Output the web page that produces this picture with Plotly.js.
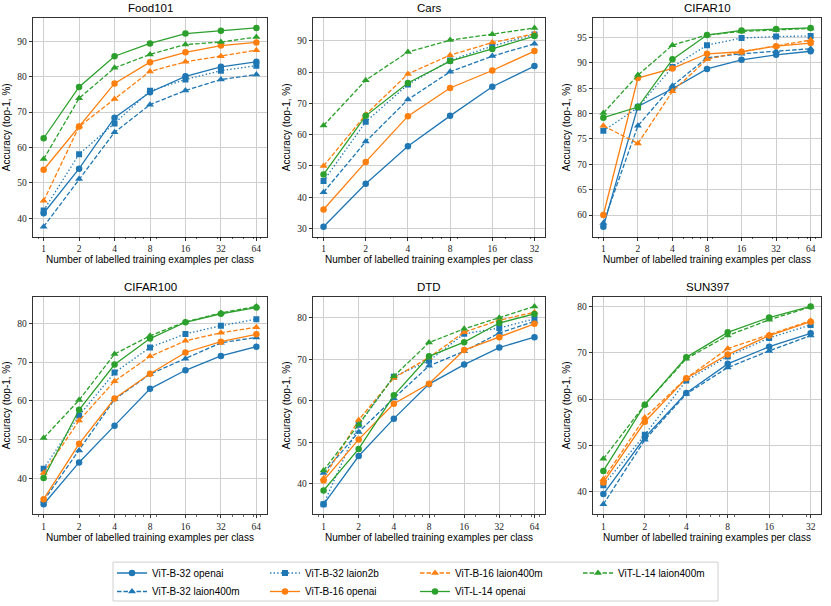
<!DOCTYPE html>
<html>
<head>
<meta charset="utf-8">
<script src="https://cdn.plot.ly/plotly-3.0.1.min.js"></script>
<style>html,body{margin:0;padding:0;background:#fff;} #chart{width:831px;height:606px;}</style>
</head>
<body>
<div id="chart"></div>
<script>
// ---------- data ----------
const shots7 = [1, 2, 4, 8, 16, 32, 64];
const shots6 = [1, 2, 4, 8, 16, 32];
const shotLabels = ['1', '2', '4', '8', '16', '32', '64'];

const modelNames = ['ViT-B-32 openai', 'ViT-B-32 laion400m', 'ViT-B-32 laion2b',
  'ViT-B-16 openai', 'ViT-B-16 laion400m', 'ViT-L-14 openai', 'ViT-L-14 laion400m'];

const datasetTitles = ['Food101', 'Cars', 'CIFAR10', 'CIFAR100', 'DTD', 'SUN397'];

// Food101
const food101_B32_openai    = [41.4, 54.0, 68.4, 75.6, 80.1, 82.8, 84.2];
const food101_B32_laion400m = [37.6, 51.1, 64.3, 72.1, 76.1, 79.2, 80.6];
const food101_B32_laion2b   = [42.2, 58.1, 66.8, 76.0, 79.2, 81.7, 83.1];
const food101_B16_openai    = [53.7, 65.9, 78.1, 84.1, 86.9, 88.8, 89.7];
const food101_B16_laion400m = [44.9, 65.9, 73.7, 81.5, 84.2, 85.8, 87.5];
const food101_L14_openai    = [62.6, 77.1, 85.8, 89.4, 92.2, 93.0, 93.8];
const food101_L14_laion400m = [56.7, 73.9, 82.5, 86.3, 89.1, 89.8, 91.2];

// Cars
const cars_B32_openai    = [30.6, 44.3, 56.3, 66.0, 75.3, 81.9];
const cars_B32_laion400m = [41.6, 57.8, 71.2, 80.1, 85.1, 89.0];
const cars_B32_laion2b   = [45.2, 64.1, 76.0, 83.7, 88.3, 92.0];
const cars_B16_openai    = [36.1, 51.3, 65.9, 74.9, 80.5, 86.7];
const cars_B16_laion400m = [50.0, 66.4, 79.4, 85.4, 89.4, 92.2];
const cars_L14_openai    = [47.3, 66.0, 76.5, 83.5, 87.4, 91.5];
const cars_L14_laion400m = [62.9, 77.4, 86.4, 90.2, 92.1, 94.1];

// CIFAR10
const cifar10_B32_openai    = [57.7, 81.4, 84.9, 88.8, 90.6, 91.6, 92.3];
const cifar10_B32_laion400m = [58.4, 77.6, 85.5, 91.0, 91.8, 92.3, 92.8];
const cifar10_B32_laion2b   = [76.6, 81.2, 89.2, 93.5, 94.9, 95.2, 95.3];
const cifar10_B16_openai    = [60.0, 87.0, 88.9, 91.8, 92.2, 93.3, 93.9];
const cifar10_B16_laion400m = [77.6, 74.1, 84.4, 90.7, 92.2, 93.3, 94.5];
const cifar10_L14_openai    = [79.2, 81.3, 90.7, 95.5, 96.4, 96.7, 96.9];
const cifar10_L14_laion400m = [80.1, 87.6, 93.5, 95.5, 96.2, 96.5, 96.8];

// CIFAR100
const cifar100_B32_openai    = [33.3, 44.1, 53.6, 63.1, 67.9, 71.6, 74.0];
const cifar100_B32_laion400m = [34.2, 47.2, 60.4, 66.9, 70.9, 75.0, 76.4];
const cifar100_B32_laion2b   = [42.5, 56.2, 67.3, 73.8, 77.3, 79.4, 81.1];
const cifar100_B16_openai    = [34.6, 48.9, 60.6, 67.0, 72.5, 75.3, 77.2];
const cifar100_B16_laion400m = [41.4, 54.9, 65.1, 71.5, 75.5, 77.6, 79.0];
const cifar100_L14_openai    = [40.1, 57.7, 69.4, 76.1, 80.3, 82.5, 84.1];
const cifar100_L14_laion400m = [50.4, 60.2, 72.1, 76.8, 80.4, 82.7, 84.4];

// DTD
const dtd_B32_openai    = [35.1, 46.7, 55.7, 64.0, 68.7, 72.8, 75.3];
const dtd_B32_laion400m = [42.6, 52.5, 60.6, 68.4, 71.9, 76.3, 79.1];
const dtd_B32_laion2b   = [35.1, 54.2, 65.8, 69.6, 76.1, 77.5, 79.7];
const dtd_B16_openai    = [40.8, 50.7, 59.3, 64.1, 72.2, 75.3, 78.5];
const dtd_B16_laion400m = [41.3, 55.4, 65.5, 70.4, 76.5, 79.4, 81.3];
const dtd_L14_openai    = [38.4, 48.4, 61.3, 70.7, 74.1, 78.7, 80.9];
const dtd_L14_laion400m = [43.2, 54.3, 65.9, 74.0, 77.3, 80.0, 82.7];

// SUN397
const sun397_B32_openai    = [39.5, 51.7, 61.3, 67.6, 71.3, 74.2];
const sun397_B32_laion400m = [37.3, 51.2, 61.1, 66.8, 70.4, 73.7];
const sun397_B32_laion2b   = [41.4, 52.3, 64.0, 69.2, 73.2, 76.0];
const sun397_B16_openai    = [42.0, 55.1, 64.5, 69.6, 73.7, 76.7];
const sun397_B16_laion400m = [42.7, 56.0, 64.5, 70.9, 73.9, 76.9];
const sun397_L14_openai    = [44.5, 58.8, 69.0, 74.4, 77.6, 80.0];
const sun397_L14_laion400m = [47.1, 58.8, 68.7, 73.7, 77.1, 79.9];

// ---------- assembly ----------
const datasets = [
  {x: shots7, ys: [food101_B32_openai, food101_B32_laion400m, food101_B32_laion2b, food101_B16_openai, food101_B16_laion400m, food101_L14_openai, food101_L14_laion400m], dtick: 10},
  {x: shots6, ys: [cars_B32_openai, cars_B32_laion400m, cars_B32_laion2b, cars_B16_openai, cars_B16_laion400m, cars_L14_openai, cars_L14_laion400m], dtick: 10},
  {x: shots7, ys: [cifar10_B32_openai, cifar10_B32_laion400m, cifar10_B32_laion2b, cifar10_B16_openai, cifar10_B16_laion400m, cifar10_L14_openai, cifar10_L14_laion400m], dtick: 5},
  {x: shots7, ys: [cifar100_B32_openai, cifar100_B32_laion400m, cifar100_B32_laion2b, cifar100_B16_openai, cifar100_B16_laion400m, cifar100_L14_openai, cifar100_L14_laion400m], dtick: 10},
  {x: shots7, ys: [dtd_B32_openai, dtd_B32_laion400m, dtd_B32_laion2b, dtd_B16_openai, dtd_B16_laion400m, dtd_L14_openai, dtd_L14_laion400m], dtick: 10},
  {x: shots6, ys: [sun397_B32_openai, sun397_B32_laion400m, sun397_B32_laion2b, sun397_B16_openai, sun397_B16_laion400m, sun397_L14_openai, sun397_L14_laion400m], dtick: 10}
];

const BLUE = '#1f77b4', ORANGE = '#ff7f0e', GREEN = '#2ca02c';
const styles = [
  {color: BLUE,   dash: 'solid',       symbol: 'circle',      size: 6.5},
  {color: BLUE,   dash: '4.5px,2px',   symbol: 'triangle-up', size: 7},
  {color: BLUE,   dash: '1.4px,2.2px', symbol: 'square',      size: 6},
  {color: ORANGE, dash: 'solid',       symbol: 'circle',      size: 6.5},
  {color: ORANGE, dash: '4.5px,2px',   symbol: 'triangle-up', size: 7},
  {color: GREEN,  dash: 'solid',       symbol: 'circle',      size: 6.5},
  {color: GREEN,  dash: '4.5px,2px',   symbol: 'triangle-up', size: 7}
];

const W = 831, H = 606;
const colPx = [[33, 267], [313, 545], [593, 821]];
const rowPx = [[18, 237], [297, 515]];

const FONT_SANS = 'Liberation Sans, Arial, sans-serif';
const FONT_SERIF = 'Liberation Serif, Times New Roman, serif';

const traces = [];
const layout = {
  width: W, height: H,
  margin: {l: 0, r: 0, t: 0, b: 0},
  paper_bgcolor: '#ffffff', plot_bgcolor: '#ffffff',
  font: {family: FONT_SANS, size: 10, color: '#000'},
  annotations: [], shapes: [],
  showlegend: true
};

function padRange(lo, hi, frac) { const d = (hi - lo) * frac; return [lo - d, hi + d]; }

datasets.forEach((ds, k) => {
  const r = Math.floor(k / 3), c = k % 3;
  const ax = k === 0 ? '' : String(k + 1);
  const n = ds.x.length;
  const lx = padRange(0, n - 1, 0.05).map(v => v * Math.log10(2));
  let lo = Infinity, hi = -Infinity;
  ds.ys.forEach(a => a.forEach(v => { lo = Math.min(lo, v); hi = Math.max(hi, v); }));
  const yr = padRange(lo, hi, 0.05);
  const xd = [colPx[c][0] / W, colPx[c][1] / W];
  const yd = [1 - rowPx[r][1] / H, 1 - rowPx[r][0] / H];
  const minorVals = [0.9, 3, 5, 6, 7, 9, 20, 30, 40, 50, 60, 70].filter(v => Math.log10(v) > lx[0] && Math.log10(v) < lx[1]);
  layout['xaxis' + ax] = {
    domain: xd, anchor: 'y' + ax, type: 'log', range: lx,
    tickmode: 'array', tickvals: ds.x, ticktext: shotLabels.slice(0, n),
    ticks: 'outside', ticklen: 3.5, tickwidth: 0.8, tickcolor: '#000',
    minor: {tickmode: 'array', tickvals: minorVals, ticks: 'outside', ticklen: 2, tickwidth: 0.6, tickcolor: '#000', showgrid: false},
    showgrid: true, gridcolor: '#cfcfcf', gridwidth: 1,
    showline: true, mirror: true, linecolor: '#000', linewidth: 0.8,
    zeroline: false, tickfont: {family: FONT_SERIF, size: 9.5, color: '#222'},
    title: {text: 'Number of labelled training examples per class', font: {family: FONT_SANS, size: 10, color: '#000'}, standoff: 2}
  };
  layout['yaxis' + ax] = {
    domain: yd, anchor: 'x' + ax, range: yr,
    tick0: 0, dtick: ds.dtick,
    ticks: 'outside', ticklen: 3.5, tickwidth: 0.8, tickcolor: '#000',
    showgrid: true, gridcolor: '#cfcfcf', gridwidth: 1,
    showline: true, mirror: true, linecolor: '#000', linewidth: 0.8,
    zeroline: false, tickfont: {family: FONT_SERIF, size: 9.5, color: '#222'},
    title: {text: 'Accuracy (top-1, %)', font: {family: FONT_SANS, size: 10, color: '#000'}, standoff: 4}
  };
  layout.annotations.push({
    text: datasetTitles[k], xref: 'paper', yref: 'paper',
    x: (xd[0] + xd[1]) / 2, y: yd[1], yshift: 2, xanchor: 'center', yanchor: 'bottom',
    showarrow: false, font: {family: FONT_SANS, size: 11.5, color: '#000', weight: 'normal'}
  });
  ds.ys.forEach((ys, i) => {
    const st = styles[i];
    traces.push({
      type: 'scatter', mode: 'lines+markers', x: ds.x, y: ys,
      xaxis: 'x' + ax, yaxis: 'y' + ax,
      name: modelNames[i], legend: i === 0 ? 'legend' : 'legend' + (i + 1),
      showlegend: k === 0, hoverinfo: 'skip',
      line: {color: st.color, width: 1.3, dash: st.dash},
      marker: {color: st.color, symbol: st.symbol, size: st.size, line: {width: 0}}
    });
  });
});

// legend: 4 columns x 2 rows, column-major like the reference
const legColPx = [112, 265, 415, 578];
const legRowPx = [573, 592];
modelNames.forEach((nm, i) => {
  const key = i === 0 ? 'legend' : 'legend' + (i + 1);
  const col = Math.floor(i / 2), row = i % 2;
  layout[key] = {
    x: legColPx[col] / W, y: 1 - legRowPx[row] / H, xanchor: 'left', yanchor: 'middle',
    bgcolor: 'rgba(0,0,0,0)', borderwidth: 0, orientation: 'v',
    font: {family: FONT_SANS, size: 10, color: '#000'}, itemwidth: 30
  };
});
layout.shapes.push({
  type: 'rect', xref: 'paper', yref: 'paper',
  x0: 113 / W, x1: 718 / W, y0: 1 - 602 / H, y1: 1 - 563 / H,
  line: {color: '#d0d0d0', width: 1}, fillcolor: 'rgba(0,0,0,0)', layer: 'below'
});

Plotly.newPlot('chart', traces, layout, {displayModeBar: false, staticPlot: true});
</script>
</body>
</html>
